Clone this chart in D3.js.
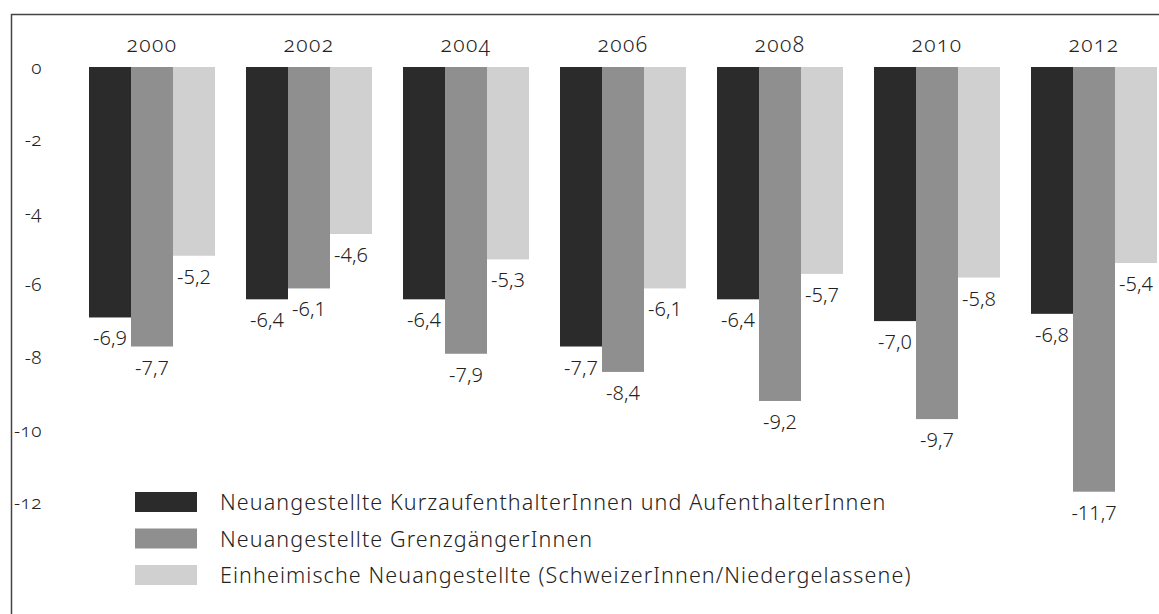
<!DOCTYPE html>
<html lang="de">
<head>
<meta charset="utf-8">
<title>Neuangestellte</title>
<script src="https://d3js.org/d3.v7.min.js"></script>
<style>
  body { margin:0; background:#fff; }
  svg { display:block; }
  text { font-family: "Noto Sans", "Open Sans", sans-serif; fill:#222; font-weight:300; }
  .yr, .tick text { font-variant-numeric: oldstyle-nums; }
</style>
</head>
<body>
<div id="chart"></div>
<script>
// data
var years = ["2000", "2002", "2004", "2006", "2008", "2010", "2012"];
var kurz = [-6.9, -6.4, -6.4, -7.7, -6.4, -7.0, -6.8];
var grenz = [-7.7, -6.1, -7.9, -8.4, -9.2, -9.7, -11.7];
var einh = [-5.2, -4.6, -5.3, -6.1, -5.7, -5.8, -5.4];
var seriesNames = [
  "Neuangestellte KurzaufenthalterInnen und AufenthalterInnen",
  "Neuangestellte GrenzgängerInnen",
  "Einheimische Neuangestellte (SchweizerInnen/Niedergelassene)"
];
var yTicks = [0, -2, -4, -6, -8, -10, -12];

var colors = ["#2b2b2b", "#8f8f8f", "#d0d0d0"];
var series = [kurz, grenz, einh];

var w = 1159, h = 614;
var svg = d3.select("#chart").append("svg").attr("width", w).attr("height", h);

// frame
svg.append("path")
  .attr("d", "M11.5,614 V14.5 H1159")
  .attr("fill", "none").attr("stroke", "#444").attr("stroke-width", 1.5);

var y = d3.scaleLinear().domain([0, -12]).range([67, 502.6]);

var x0 = d3.scaleBand().domain(years).range([89, 1188]).paddingInner(0).paddingOuter(0);
var groupW = 126;
var x1 = d3.scaleBand().domain([0, 1, 2]).range([0, groupW]);

// y axis labels
var yAxis = d3.axisLeft(y).tickValues(yTicks).tickSize(0).tickPadding(0)
  .tickFormat(function(d) { return d3.format("d")(d).replace("−", "-"); });
var gy = svg.append("g").attr("transform", "translate(42,0)").call(yAxis);
gy.select(".domain").remove();
gy.selectAll("text").style("font-size", "19px").attr("fill", "#222")
  .style("font-family", "\"Noto Sans\", sans-serif").style("letter-spacing", "0.5px");

// year labels
svg.selectAll(".yr").data(years).enter().append("text")
  .attr("class", "yr")
  .attr("x", function(d) { return x0(d) + groupW / 2; })
  .attr("y", 52)
  .attr("text-anchor", "middle")
  .style("font-size", "21px")
  .style("letter-spacing", "1.5px")
  .text(function(d) { return d; });

// bars
var fmt = function(v) { return d3.format(".1f")(v).replace("−", "-").replace(".", ","); };

series.forEach(function(vals, s) {
  var g = svg.append("g");
  g.selectAll("rect").data(vals).enter().append("rect")
    .attr("x", function(d, i) { return x0(years[i]) + x1(s); })
    .attr("y", y(0))
    .attr("width", x1.bandwidth())
    .attr("height", function(d) { return y(d) - y(0); })
    .attr("fill", colors[s]);
  g.selectAll("text").data(vals).enter().append("text")
    .attr("x", function(d, i) { return x0(years[i]) + x1(s) + x1.bandwidth() / 2; })
    .attr("y", function(d) { return y(d) + 28; })
    .attr("text-anchor", "middle")
    .style("font-size", "20px")
    .text(fmt);
});

// legend
var leg = svg.append("g").attr("transform", "translate(135,492)");
seriesNames.forEach(function(name, i) {
  leg.append("rect").attr("x", 0).attr("y", i * 36.5).attr("width", 62).attr("height", 20)
    .attr("fill", colors[i]);
  leg.append("text").attr("x", 85).attr("y", i * 36.5 + 18)
    .style("font-size", "21.5px").style("letter-spacing", "1.1px").text(name);
});
</script>
</body>
</html>
